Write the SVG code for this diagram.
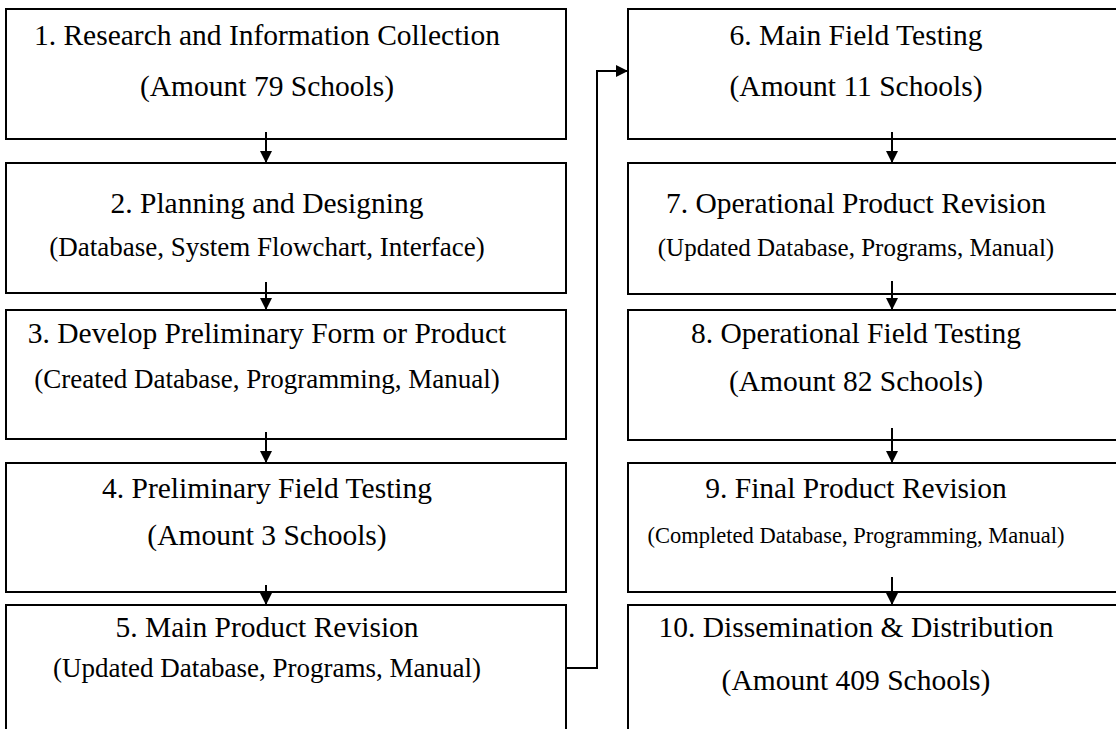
<svg xmlns="http://www.w3.org/2000/svg" width="1116" height="729" viewBox="0 0 1116 729">
  <style>
    .box { fill: #ffffff; stroke: #000000; stroke-width: 2; }
    .t { font-family: "Liberation Serif", "Times New Roman", serif; fill: #000000; text-anchor: middle; }
    .h { font-size: 29.5px; }
    .s1 { font-size: 27px; }
    .s2 { font-size: 25px; }
    .s3 { font-size: 22.5px; }
    .link { fill: none; stroke: #000000; stroke-width: 2; }
  </style>
  <defs>
    <marker id="arrow" viewBox="0 0 12 12" refX="12" refY="6" markerWidth="12" markerHeight="12" markerUnits="userSpaceOnUse" orient="auto">
      <path d="M0,0 L12,6 L0,12 z" fill="#000000"/>
    </marker>
  </defs>
  <rect width="1116" height="729" fill="#ffffff"/>

  <!-- left column -->
  <g id="step1">
    <rect class="box" x="6" y="9" width="560" height="130"/>
    <text class="t h" x="267" y="45">1. Research and Information Collection</text>
    <text class="t h" x="267" y="96">(Amount 79 Schools)</text>
  </g>
  <g id="step2">
    <rect class="box" x="6" y="163" width="560" height="130"/>
    <text class="t h" x="267" y="213">2. Planning and Designing</text>
    <text class="t s1" x="267" y="256">(Database, System Flowchart, Interface)</text>
  </g>
  <g id="step3">
    <rect class="box" x="6" y="310" width="560" height="129"/>
    <text class="t h" x="267" y="343">3. Develop Preliminary Form or Product</text>
    <text class="t s1" x="267" y="388">(Created Database, Programming, Manual)</text>
  </g>
  <g id="step4">
    <rect class="box" x="6" y="463" width="560" height="129"/>
    <text class="t h" x="267" y="498">4. Preliminary Field Testing</text>
    <text class="t h" x="267" y="545">(Amount 3 Schools)</text>
  </g>
  <g id="step5">
    <rect class="box" x="6" y="605" width="560" height="140"/>
    <text class="t h" x="267" y="637">5. Main Product Revision</text>
    <text class="t s1" x="267" y="677">(Updated Database, Programs, Manual)</text>
  </g>

  <!-- right column -->
  <g id="step6">
    <rect class="box" x="628" y="9" width="500" height="130"/>
    <text class="t h" x="856" y="45">6. Main Field Testing</text>
    <text class="t h" x="856" y="96">(Amount 11 Schools)</text>
  </g>
  <g id="step7">
    <rect class="box" x="628" y="163" width="500" height="131"/>
    <text class="t h" x="856" y="213">7. Operational Product Revision</text>
    <text class="t s2" x="856" y="256">(Updated Database, Programs, Manual)</text>
  </g>
  <g id="step8">
    <rect class="box" x="628" y="310" width="500" height="130"/>
    <text class="t h" x="856" y="343">8. Operational Field Testing</text>
    <text class="t h" x="856" y="391">(Amount 82 Schools)</text>
  </g>
  <g id="step9">
    <rect class="box" x="628" y="463" width="500" height="129"/>
    <text class="t h" x="856" y="498">9. Final Product Revision</text>
    <text class="t s3" x="856" y="543">(Completed Database, Programming, Manual)</text>
  </g>
  <g id="step10">
    <rect class="box" x="628" y="605" width="500" height="140"/>
    <text class="t h" x="856" y="637">10. Dissemination &amp; Distribution</text>
    <text class="t h" x="856" y="690">(Amount 409 Schools)</text>
  </g>

  <!-- connectors -->
  <g id="connectors">
    <line class="link" x1="266" y1="132" x2="266" y2="163" marker-end="url(#arrow)"/>
    <line class="link" x1="266" y1="282" x2="266" y2="310" marker-end="url(#arrow)"/>
    <line class="link" x1="266" y1="432" x2="266" y2="463" marker-end="url(#arrow)"/>
    <line class="link" x1="266" y1="585" x2="266" y2="605" marker-end="url(#arrow)"/>
    <polyline class="link" points="566,668 597,668 597,71 628,71" marker-end="url(#arrow)"/>
    <line class="link" x1="892" y1="132" x2="892" y2="163" marker-end="url(#arrow)"/>
    <line class="link" x1="892" y1="281" x2="892" y2="310" marker-end="url(#arrow)"/>
    <line class="link" x1="892" y1="428" x2="892" y2="463" marker-end="url(#arrow)"/>
    <line class="link" x1="892" y1="577" x2="892" y2="605" marker-end="url(#arrow)"/>
  </g>
</svg>
